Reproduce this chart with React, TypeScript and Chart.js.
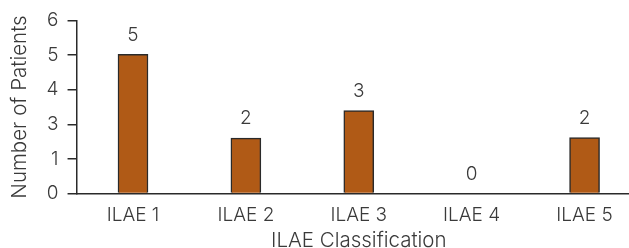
import React, { useEffect, useRef } from "react";
import { Chart, registerables } from "chart.js";

Chart.register(...registerables);

const categories = ["ILAE 1", "ILAE 2", "ILAE 3", "ILAE 4", "ILAE 5"];
// bar heights as drawn, in axis grid units
const barValues = [4.02, 1.6, 2.4, 0, 1.62];
// value labels printed above the bars
const barLabels = ["5", "2", "3", "0", "2"];
// tick labels printed on the y axis (grid positions 0..5)
const yTickLabels = ["0", "1", "3", "4", "5", "6"];

const TEXT = "#3a3a3a";
const FONT = "Inter";

const valueLabelPlugin = {
  id: "valueLabels",
  afterDatasetsDraw(chart: any) {
    const ctx = chart.ctx;
    const meta = chart.getDatasetMeta(0);
    ctx.save();
    ctx.font = `300 19px ${FONT}`;
    ctx.fillStyle = TEXT;
    ctx.textAlign = "center";
    ctx.textBaseline = "bottom";
    meta.data.forEach((bar: any, i: number) => {
      ctx.fillText(barLabels[i], bar.x, bar.y - 10);
    });
    ctx.restore();
  },
};

export default function App() {
  const ref = useRef<HTMLCanvasElement>(null);
  useEffect(() => {
    if (!ref.current) return;
    const chart = new Chart(ref.current, {
      type: "bar",
      data: {
        labels: categories,
        datasets: [
          {
            data: barValues,
            backgroundColor: "#B05A16",
            borderColor: "#2a2a2a",
            borderWidth: 1.5,
            barThickness: 30,
          },
        ],
      },
      options: {
        animation: false,
        responsive: false,
        layout: { padding: { top: 11, right: 0, left: 8, bottom: 0 } },
        plugins: { legend: { display: false }, tooltip: { enabled: false } },
        scales: {
          x: {
            grid: { display: false },
            border: { display: true, color: "#2a2a2a", width: 1.5 },
            ticks: { color: TEXT, font: { family: FONT, size: 19, weight: "300" }, padding: 2 },
            title: {
              display: true,
              text: "ILAE Classification",
              color: TEXT,
              font: { family: FONT, size: 20.5, weight: "300" },
              padding: { top: 0, bottom: -5 },
            },
          },
          y: {
            min: 0,
            max: 5,
            ticks: {
              stepSize: 1,
              color: TEXT,
              font: { family: FONT, size: 19, weight: "300" },
              padding: 9,
              callback: (_v: any, i: number) => yTickLabels[i],
            },
            grid: {
              drawOnChartArea: false,
              drawTicks: true,
              tickLength: 9,
              color: "#2a2a2a",
              lineWidth: 1.5,
            },
            border: { display: true, color: "#2a2a2a", width: 1.5 },
            title: {
              display: true,
              text: "Number of Patients",
              color: TEXT,
              font: { family: FONT, size: 20.5, weight: "300" },
              padding: { top: 0, bottom: 5 },
            },
          },
        },
      },
      plugins: [valueLabelPlugin],
    });
    return () => chart.destroy();
  }, []);
  return (
    <div style={{ position: "fixed", left: 0, top: 0, width: 629, height: 248, overflow: "hidden", background: "#fff" }}>
      <canvas ref={ref} width={641} height={248} style={{ display: "block" }} />
    </div>
  );
}
